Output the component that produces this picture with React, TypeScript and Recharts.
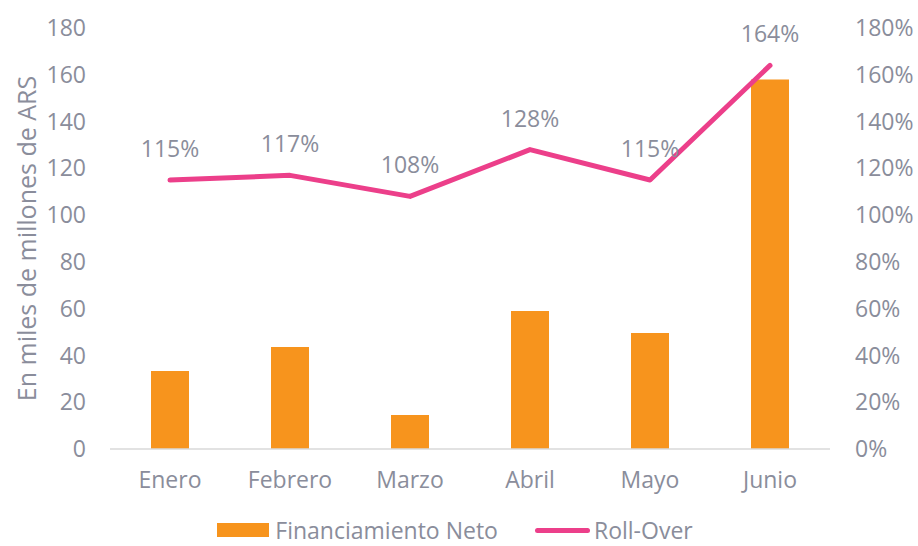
import React from "react";
import {
  ComposedChart,
  Bar,
  Line,
  XAxis,
  YAxis,
  LabelList,
} from "recharts";

const months = ["Enero", "Febrero", "Marzo", "Abril", "Mayo", "Junio"];
const financiamientoNeto = [33.3, 43.6, 14.5, 59, 49.6, 158];
const rollOver = [115, 117, 108, 128, 115, 164];
const leftTicks = [0, 20, 40, 60, 80, 100, 120, 140, 160, 180];
const rightTicks = [0, 20, 40, 60, 80, 100, 120, 140, 160, 180];
const legendLabels = ["Financiamiento Neto", "Roll-Over"];

const data = months.map((m, i) => ({
  mes: m,
  fin: financiamientoNeto[i],
  roll: rollOver[i],
}));

const FONT = "'Open Sans', sans-serif";
const GRAY = "#8A8D9B";
const ORANGE = "#F7941D";
const PINK = "#EC3F8A";
const WEIGHT = 400;
const FS = 23;

const tickStyle = { fill: GRAY, fontSize: FS, fontFamily: FONT, fontWeight: WEIGHT };

const LegendBlock = () => (
  <div
    style={{
      position: "absolute",
      left: 0,
      top: 514,
      width: 918,
      display: "flex",
      justifyContent: "center",
      alignItems: "center",
      fontFamily: FONT,
      fontWeight: WEIGHT,
      fontSize: FS,
      color: GRAY,
      height: 32,
      lineHeight: "32px",
      paddingRight: 8,
      boxSizing: "border-box",
      whiteSpace: "nowrap",
    }}
  >
    <span style={{ display: "inline-block", width: 52, height: 14, background: ORANGE, marginRight: 6 }} />
    <span style={{ marginRight: 37 }}>{legendLabels[0]}</span>
    <span style={{ display: "inline-block", width: 55, height: 5, borderRadius: 3, background: PINK, marginRight: 4 }} />
    <span>{legendLabels[1]}</span>
  </div>
);

export default function App() {
  return (
    <div style={{ position: "absolute", left: 0, top: 0, width: 918, height: 546, background: "#fff", overflow: "hidden" }}>
      <ComposedChart
        width={918}
        height={546}
        data={data}
        margin={{ top: 28, right: 0, bottom: 67, left: 0 }}
      >
        <XAxis
          dataKey="mes"
          height={30}
          tickLine={false}
          axisLine={{ stroke: "#D9D9D9", strokeWidth: 1.5 }}
          tick={tickStyle}
          tickSize={0}
          tickMargin={23}
          interval={0}
        />
        <YAxis
          yAxisId="left"
          domain={[0, 180]}
          ticks={leftTicks}
          width={110}
          axisLine={false}
          tickLine={false}
          tickSize={0}
          tickMargin={24}
          tick={tickStyle}
          interval={0}
          label={{
            value: "En miles de millones de ARS",
            angle: -90,
            position: "insideLeft",
            dx: 22,
            style: { textAnchor: "middle", fill: GRAY, fontSize: 25, fontFamily: FONT, fontWeight: WEIGHT },
          }}
        />
        <YAxis
          yAxisId="right"
          orientation="right"
          domain={[0, 180]}
          ticks={rightTicks}
          width={88}
          axisLine={false}
          tickLine={false}
          tickSize={0}
          tickMargin={25}
          tick={tickStyle}
          interval={0}
          tickFormatter={(v: number) => `${v}%`}
        />
        <Bar
          yAxisId="left"
          dataKey="fin"
          fill={ORANGE}
          barSize={38}
          isAnimationActive={false}
        />
        <Line
          yAxisId="right"
          dataKey="roll"
          stroke={PINK}
          strokeWidth={5}
          strokeLinecap="round"
          strokeLinejoin="round"
          dot={false}
          activeDot={false}
          type="linear"
          isAnimationActive={false}
        >
          <LabelList
            dataKey="roll"
            position="top"
            offset={23}
            formatter={(v: number) => `${v}%`}
            style={{ fill: GRAY, fontSize: FS, fontFamily: FONT, fontWeight: WEIGHT }}
          />
        </Line>
      </ComposedChart>
      <LegendBlock />
    </div>
  );
}
